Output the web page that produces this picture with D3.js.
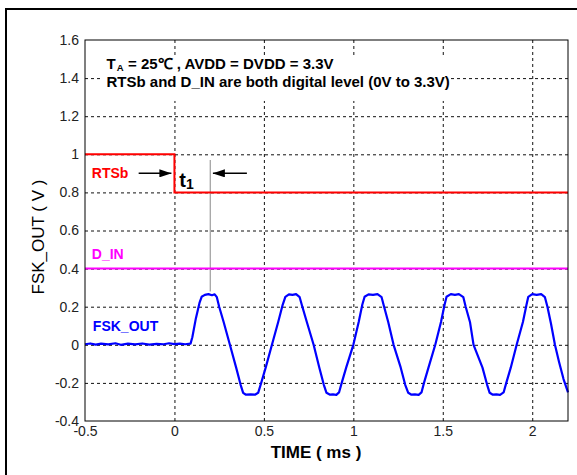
<!DOCTYPE html>
<meta charset="utf-8">
<style>
    body {
        margin: 0;
        background: #fff;
        font-family: "Liberation Sans", Arial, sans-serif;
    }

    .grid line {
        stroke: #111;
        stroke-width: 1;
        stroke-dasharray: 3, 3;
    }

    .grid path,
    .axis path,
    .axis line {
        display: none;
    }

    .axis text {
        fill: #222;
        font-size: 14px;
        font-family: "Liberation Sans", Arial, sans-serif;
    }

    .lbl {
        font-weight: 700;
        font-size: 14px;
    }
</style>

<body>
    <svg id="chart" width="577" height="475"></svg>

    <script src="https://cdnjs.cloudflare.com/ajax/libs/d3/7.8.5/d3.min.js"></script>
    <script>
        // ticks
        var xTicks = [-0.5, 0, 0.5, 1, 1.5, 2];
        var yTicks = [-0.4, -0.2, 0, 0.2, 0.4, 0.6, 0.8, 1, 1.2, 1.4, 1.6];

        // RTSb and D_IN (digital levels, scaled)
        var rtsbT = [-0.5, 0, 0, 2.2];
        var rtsbV = [1, 1, 0.8, 0.8];
        var dinT = [-0.5, 2.2];
        var dinV = [0.4, 0.4];

        // FSK_OUT
        var fskT = [-0.5, -0.47, -0.44, -0.41, -0.37, -0.33, -0.3, -0.26, -0.22, -0.18, -0.14, -0.1, -0.06, -0.03, 0, 0.03, 0.06, 0.09,
            0.1, 0.12, 0.14, 0.152, 0.17, 0.19, 0.21, 0.225, 0.237,
            0.25, 0.275, 0.31, 0.345, 0.37, 0.384, 0.4, 0.426, 0.45, 0.468,
            0.485, 0.51, 0.545, 0.58, 0.605, 0.62, 0.64, 0.66, 0.68, 0.7,
            0.715, 0.74, 0.778, 0.81, 0.835, 0.85, 0.87, 0.886, 0.905, 0.92,
            0.935, 0.96, 1.0, 1.03, 1.05, 1.063, 1.085, 1.11, 1.135, 1.158,
            1.172, 1.195, 1.225, 1.265, 1.29, 1.307, 1.325, 1.344, 1.365, 1.381,
            1.395, 1.42, 1.458, 1.49, 1.51, 1.521, 1.545, 1.568, 1.59, 1.615,
            1.628, 1.652, 1.672, 1.722, 1.748, 1.762, 1.78, 1.8, 1.82, 1.84,
            1.855, 1.88, 1.913, 1.948, 1.968, 1.978, 2.0, 2.025, 2.05, 2.071,
            2.085, 2.105, 2.127, 2.15, 2.175, 2.2];
        var fskV = [0.003, 0.007, 0.001, 0.006, 0.002, 0.008, 0.0, 0.006, 0.002, 0.007, 0.001, 0.005, 0.003, 0.008, 0.004, 0.006, 0.003, 0.006,
            0.04, 0.14, 0.22, 0.252, 0.262, 0.266, 0.26, 0.265, 0.25,
            0.2, 0.12, 0.0, -0.12, -0.21, -0.252, -0.262, -0.26, -0.262, -0.252,
            -0.2, -0.12, 0.0, 0.12, 0.21, 0.252, 0.265, 0.262, 0.266, 0.25,
            0.2, 0.12, 0.0, -0.12, -0.21, -0.252, -0.262, -0.26, -0.263, -0.25,
            -0.2, -0.12, 0.0, 0.12, 0.21, 0.252, 0.265, 0.262, 0.266, 0.25,
            0.2, 0.12, 0.0, -0.12, -0.21, -0.252, -0.262, -0.26, -0.263, -0.25,
            -0.2, -0.12, 0.0, 0.12, 0.21, 0.252, 0.266, 0.262, 0.266, 0.25,
            0.2, 0.12, 0.0, -0.12, -0.21, -0.252, -0.262, -0.26, -0.263, -0.25,
            -0.2, -0.12, 0.0, 0.12, 0.21, 0.252, 0.266, 0.262, 0.266, 0.25,
            0.2, 0.11, 0.0, -0.09, -0.18, -0.25];

        // t1 marker
        var t1T = [0.2, 0.2];
        var t1V = [0.97, 0.28];

        var svg = d3.select("#chart"),
            margin = { top: 40, left: 85, right: 9, bottom: 54 },
            width = +svg.attr("width") - margin.left - margin.right,
            height = +svg.attr("height") - margin.top - margin.bottom;

        // outer frame
        svg.append("rect")
            .attr("x", 6).attr("y", 9)
            .attr("width", 600).attr("height", 500)
            .attr("fill", "#fff")
            .attr("stroke", "#000")
            .attr("stroke-width", 2);

        var x = d3.scaleLinear().domain([-0.5, 2.2]).range([0, width]);
        var y = d3.scaleLinear().domain([-0.4, 1.6]).range([height, 0]);

        var g = svg.append("g")
            .attr("transform", "translate(" + margin.left + "," + margin.top + ")");

        // grid
        g.append("g")
            .attr("class", "grid")
            .attr("transform", "translate(0," + height + ")")
            .call(d3.axisBottom(x).tickValues(xTicks.slice(1)).tickSize(-height).tickFormat(""));
        g.append("g")
            .attr("class", "grid")
            .call(d3.axisLeft(y).tickValues(yTicks.slice(1, -1)).tickSize(-width).tickFormat(""));

        // white box behind the notes
        g.append("rect")
            .attr("x", x(-0.41)).attr("y", y(1.52))
            .attr("width", x(1.54) - x(-0.41))
            .attr("height", y(1.28) - y(1.52))
            .attr("fill", "#fff");

        // note line 1: T, subscript A, rest (separate pieces)
        var nx = x(-0.38), ny = y(1.447);
        var tT = g.append("text").attr("class", "lbl")
            .attr("x", nx).attr("y", ny)
            .style("font-size", "15px").text("T");
        var ax = nx + tT.node().getComputedTextLength() + 1;
        var tA = g.append("text").attr("class", "lbl")
            .attr("x", ax).attr("y", ny + 2)
            .style("font-size", "9.5px").text("A");
        g.append("text").attr("class", "lbl")
            .attr("x", ax + tA.node().getComputedTextLength() + 4.5).attr("y", ny)
            .style("font-size", "15px")
            .text("= 25\u2103 , AVDD = DVDD = 3.3V");

        g.append("text")
            .attr("class", "lbl")
            .attr("x", nx).attr("y", y(1.352))
            .style("font-size", "15px")
            .text("RTSb and D_IN are both digital level (0V to 3.3V)");

        var line = d3.line()
            .x(function (d) { return x(d[0]); })
            .y(function (d) { return y(d[1]); });

        function pairs(a, b) { return a.map(function (v, i) { return [v, b[i]]; }); }

        g.append("path")
            .datum(pairs(t1T, t1V))
            .attr("d", line)
            .attr("fill", "none")
            .attr("stroke", "#888")
            .attr("stroke-width", 1);

        g.append("path")
            .datum(pairs(dinT, dinV))
            .attr("d", line)
            .attr("fill", "none")
            .attr("stroke", "#ff00ff")
            .attr("stroke-width", 2);

        g.append("path")
            .datum(pairs(rtsbT, rtsbV))
            .attr("d", line)
            .attr("fill", "none")
            .attr("stroke", "#ff0000")
            .attr("stroke-width", 2);

        g.append("path")
            .datum(pairs(fskT, fskV))
            .attr("d", line)
            .attr("fill", "none")
            .attr("stroke", "#0000ff")
            .attr("stroke-width", 2.2)
            .attr("stroke-linejoin", "round");

        // arrows for t1
        svg.append("defs").append("marker")
            .attr("id", "head")
            .attr("viewBox", "0 0 12 8")
            .attr("refX", 12).attr("refY", 4)
            .attr("markerWidth", 12).attr("markerHeight", 8)
            .attr("markerUnits", "userSpaceOnUse")
            .attr("orient", "auto")
            .append("path")
            .attr("d", "M0,0 L12,4 L0,8 Z")
            .attr("fill", "#000");

        g.append("line")
            .attr("x1", x(-0.2)).attr("x2", x(-0.017))
            .attr("y1", y(0.9)).attr("y2", y(0.9))
            .attr("stroke", "#000").attr("stroke-width", 1.5)
            .attr("marker-end", "url(#head)");
        g.append("line")
            .attr("x1", x(0.405)).attr("x2", x(0.215))
            .attr("y1", y(0.9)).attr("y2", y(0.9))
            .attr("stroke", "#000").attr("stroke-width", 1.5)
            .attr("marker-end", "url(#head)");

        g.append("text")
            .attr("x", x(0.027)).attr("y", y(0.828))
            .style("font-weight", "700").style("font-size", "20px")
            .call(function (t) {
                t.append("tspan").text("t");
                t.append("tspan").attr("dy", 2).style("font-size", "14px").text("1");
            });

        // series labels
        g.append("text").attr("class", "lbl").attr("fill", "#ff0000")
            .attr("x", x(-0.462)).attr("y", y(0.875)).text("RTSb");
        g.append("text").attr("class", "lbl").attr("fill", "#ff00ff")
            .attr("x", x(-0.462)).attr("y", y(0.45)).text("D_IN");
        g.append("text").attr("class", "lbl").attr("fill", "#0000ff")
            .attr("x", x(-0.456)).attr("y", y(0.074)).text("FSK_OUT");

        // box
        g.append("rect")
            .attr("width", width).attr("height", height)
            .attr("fill", "none")
            .attr("stroke", "#000")
            .attr("stroke-width", 1);

        // axes labels
        g.append("g")
            .attr("class", "axis")
            .attr("transform", "translate(0," + height + ")")
            .call(d3.axisBottom(x).tickValues(xTicks).tickSize(0).tickPadding(5)
                .tickFormat(function (d) { return String(d); }));
        g.append("g")
            .attr("class", "axis")
            .call(d3.axisLeft(y).tickValues(yTicks).tickSize(0).tickPadding(6)
                .tickFormat(function (d) { return String(d); }));

        svg.append("text")
            .attr("x", 316).attr("y", 458)
            .attr("text-anchor", "middle")
            .style("font-weight", "700").style("font-size", "17px")
            .text("TIME ( ms )");

        svg.append("text")
            .attr("transform", "translate(44,237) rotate(-90)")
            .attr("text-anchor", "middle")
            .style("font-size", "17px")
            .text("FSK_OUT ( V )");
    </script>
</body>
